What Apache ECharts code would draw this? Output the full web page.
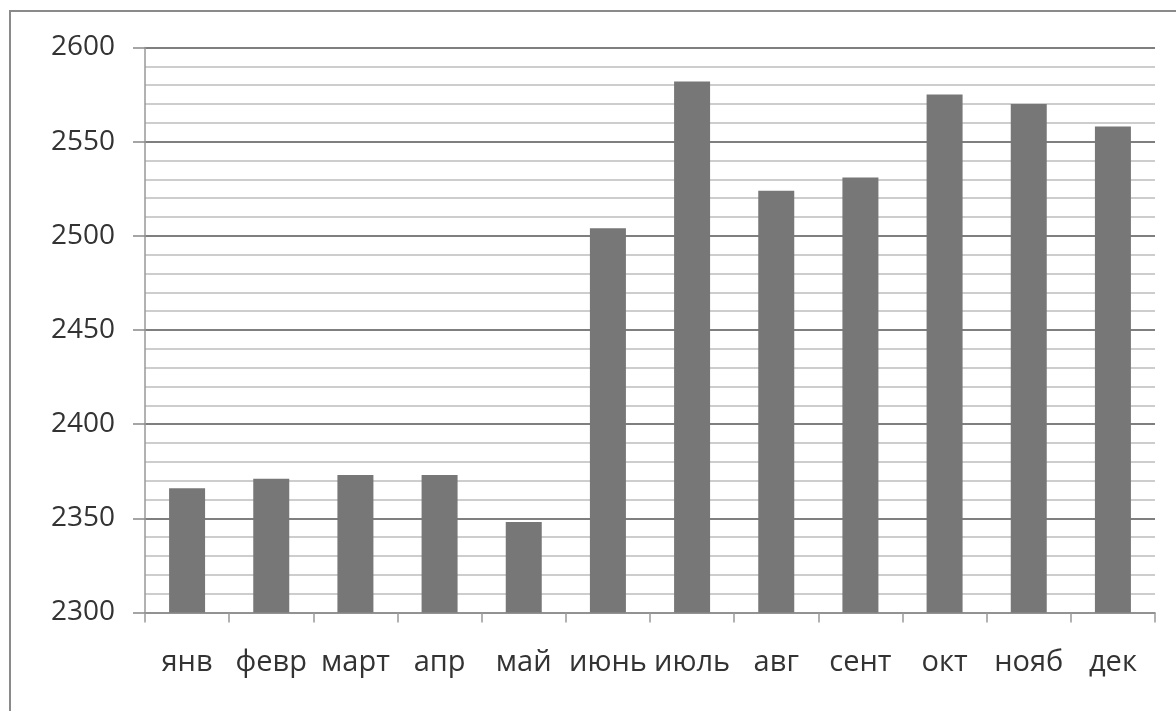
<!DOCTYPE html>
<html>
<head>
<meta charset="utf-8">
<script src="https://cdn.jsdelivr.net/npm/echarts@6/dist/echarts.min.js"></script>
<style>html,body{margin:0;padding:0;background:#fff}#c{width:1176px;height:711px}</style>
</head>
<body>
<div id="c"></div>
<script>
const categories = ['янв','февр','март','апр','май','июнь','июль','авг','сент','окт','нояб','дек'];
const values = [2366, 2371, 2373, 2373, 2348, 2504, 2582, 2524, 2531, 2575, 2570, 2558];
const yMin = 2300, yMax = 2600, yStep = 50;

const chart = echarts.init(document.getElementById('c'), null, {renderer: 'canvas'});
chart.setOption({
  backgroundColor: '#ffffff',
  animation: false,
  graphic: [{
    type: 'rect', silent: true, z: 0,
    shape: {x: 10, y: 11, width: 1300, height: 900},
    style: {fill: 'none', stroke: '#8a8a8a', lineWidth: 2}
  }],
  grid: {left: 145, right: 21, top: 47.5, bottom: 98.5, containLabel: false},
  xAxis: {
    type: 'category',
    data: categories,
    boundaryGap: true,
    axisLine: {show: true, lineStyle: {color: '#999', width: 1.5}},
    axisTick: {show: true, alignWithLabel: false, length: 10, lineStyle: {color: '#999', width: 1.5}},
    axisLabel: {margin: 36, color: '#333', fontFamily: 'Open Sans', fontSize: 29, interval: 0}
  },
  yAxis: {
    type: 'value',
    min: yMin, max: yMax, interval: yStep,
    axisLine: {show: true, lineStyle: {color: '#999', width: 1.5}},
    axisTick: {show: true, inside: false, length: 12, lineStyle: {color: '#888', width: 1.5}},
    axisLabel: {margin: 30, color: '#333', fontFamily: 'Open Sans', fontSize: 28,
      formatter: v => String(v)},
    splitLine: {show: true, lineStyle: {color: '#7f7f7f', width: 2}},
    minorTick: {show: false, splitNumber: 5},
    minorSplitLine: {show: true, lineStyle: {color: '#bdbdbd', width: 1.5}}
  },
  series: [{
    type: 'bar',
    data: values,
    barWidth: 36,
    itemStyle: {color: '#777777'}
  }]
});
</script>
</body>
</html>
